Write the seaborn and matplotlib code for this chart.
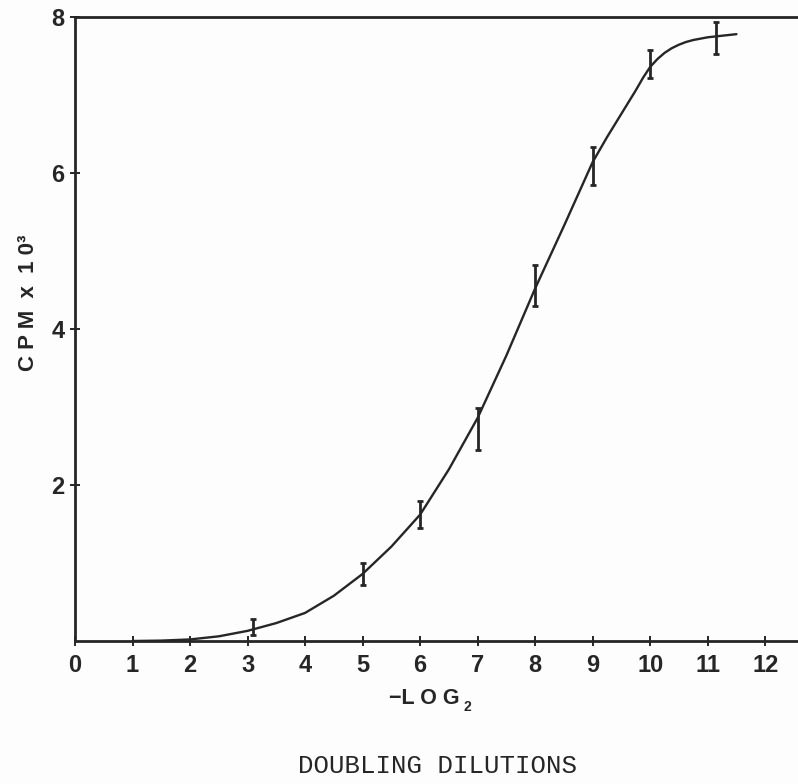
import matplotlib
matplotlib.use("Agg")
import matplotlib.pyplot as plt
import seaborn as sns
import pandas as pd

curve_x = [1, 1.5, 2, 2.5, 3, 3.5, 4, 4.5, 5, 5.5, 6, 6.5, 7, 7.5, 8, 8.5,
           9, 9.25, 9.5, 9.75, 9.875, 10, 10.125, 10.25, 10.375, 10.5,
           10.625, 10.75, 11, 11.25, 11.5]
curve_y = [0.0, 0.005, 0.02, 0.06, 0.13, 0.23, 0.36, 0.58, 0.86, 1.21, 1.62,
           2.20, 2.86, 3.66, 4.52, 5.32, 6.14, 6.46, 6.76, 7.06, 7.22, 7.36,
           7.46, 7.54, 7.60, 7.645, 7.68, 7.705, 7.74, 7.76, 7.78]

# Measured points: dilution step, mean CPM (x10^3), half-range of the error bar
point_x = [3.1, 5, 6, 7, 8, 9, 10, 11.15]
point_mean = [0.18, 0.86, 1.62, 2.72, 4.56, 6.09, 7.40, 7.73]
point_err = [0.10, 0.14, 0.17, 0.27, 0.26, 0.24, 0.18, 0.20]

x_ticks = list(range(0, 13))
y_ticks = [2, 4, 6, 8]

ink = "#262626"

sns.set_style("ticks")
plt.rcParams["font.family"] = ["Liberation Sans", "DejaVu Sans"]

fig = plt.figure(figsize=(7.98, 7.84), dpi=100)
fig.patch.set_facecolor("#fdfdfd")
ax = fig.add_axes([75 / 798, 1 - 641 / 784, 1 - 75 / 798, (641 - 17) / 784])
ax.set_facecolor("#fdfdfd")

curve = pd.DataFrame({"dilution": curve_x, "cpm": curve_y})
sns.lineplot(data=curve, x="dilution", y="cpm", ax=ax, color=ink,
             linewidth=1.7, sort=True)

ax.errorbar(point_x, point_mean, yerr=point_err, fmt="none", ecolor=ink,
            elinewidth=2.0, capsize=2.5, capthick=2.0)

ax.set_xlim(0, 12.57)
ax.set_ylim(0, 8)
ax.set_xticks(x_ticks)
ax.set_xticklabels([str(t) for t in x_ticks])
ax.set_yticks(y_ticks)
ax.set_yticklabels([str(t) for t in y_ticks])
ax.tick_params(axis="both", direction="inout", length=7, width=1.4,
               color=ink, labelcolor=ink, labelsize=17)
ax.tick_params(axis="x", pad=6)
ax.tick_params(axis="y", pad=4)
for lab in ax.get_xticklabels() + ax.get_yticklabels():
    lab.set_fontweight("bold")

for side in ("left", "bottom", "top"):
    ax.spines[side].set_visible(True)
    ax.spines[side].set_color(ink)
    ax.spines[side].set_linewidth(2.0)
ax.spines["right"].set_visible(False)

ax.set_xlabel("")
ax.set_ylabel("")

# Axis titles
fig.text(28.5 / 798, 1 - 303 / 784, "C P M  x  1 0\u00b3", rotation=90,
         ha="center", va="center", fontsize=16, fontweight="bold", color=ink)
fig.text(424 / 798, 1 - 698 / 784, "\u2212L O G", ha="center", va="center",
         fontsize=15.5, fontweight="bold", color=ink)
fig.text(467 / 798, 1 - 707 / 784, "2", ha="center", va="center",
         fontsize=10, fontweight="bold", color=ink)
fig.text(438 / 798, 1 - 766 / 784, "DOUBLING DILUTIONS", ha="center",
         va="center", fontsize=18.5, family="Liberation Mono", color=ink)

fig.savefig("out.png", dpi=100, facecolor=fig.get_facecolor())
